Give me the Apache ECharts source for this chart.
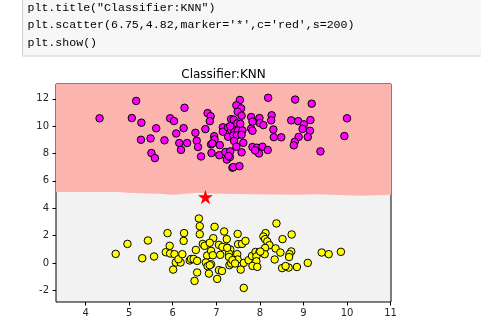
<!DOCTYPE html>
<html>
<head>
<meta charset="utf-8">
<script src="https://cdn.jsdelivr.net/npm/echarts@6/dist/echarts.min.js"></script>
<style>
  html, body { margin: 0; padding: 0; background: #ffffff; }
  #chart { width: 481px; height: 328px; }
</style>
</head>
<body>
<div id="chart"></div>
<script>
// Class 0 samples (upper blob)
const class0 = [
  [4.32, 10.58], [5.16, 11.85], [5.06, 10.60], [5.28, 10.26], [5.27, 9.01],
  [5.62, 9.85], [5.49, 9.11], [5.51, 8.04], [5.59, 7.67], [5.81, 8.97],
  [5.94, 10.58], [6.03, 10.38], [6.08, 9.47], [6.27, 11.35], [6.25, 9.86],
  [6.15, 8.77], [6.19, 8.27], [6.33, 8.77], [6.52, 9.52], [6.55, 8.94],
  [6.58, 8.48], [6.65, 7.79], [6.75, 9.79], [6.80, 10.96], [6.87, 10.73],
  [6.85, 10.37], [6.95, 9.27], [6.96, 9.04], [6.88, 8.67], [6.91, 8.74],
  [7.08, 8.62], [6.89, 8.04], [7.07, 7.88], [7.15, 9.92], [7.15, 9.60],
  [7.27, 9.92], [7.27, 9.23], [7.21, 8.11], [7.24, 7.56], [7.31, 7.74],
  [7.34, 10.52], [7.34, 9.71], [7.37, 6.97], [7.54, 11.92], [8.19, 12.08],
  [8.81, 11.95], [7.46, 11.53], [7.57, 11.31], [7.49, 11.06], [7.58, 10.77],
  [7.40, 10.48], [7.48, 10.21], [7.80, 10.67], [7.99, 10.60], [7.83, 10.33],
  [8.00, 10.23], [8.08, 10.08], [8.27, 10.80], [8.26, 10.43], [8.31, 9.76],
  [7.80, 9.82], [7.83, 9.67], [8.32, 9.20], [8.49, 9.19], [8.72, 10.43],
  [8.88, 10.37], [9.16, 10.45], [9.01, 10.14], [8.98, 9.80], [9.15, 9.67],
  [8.89, 9.22], [9.10, 9.21], [8.80, 8.86], [8.78, 8.60], [9.19, 11.65],
  [10.00, 10.58], [9.94, 9.28], [9.39, 8.16], [7.42, 9.65], [7.50, 9.70],
  [7.60, 9.70], [7.39, 9.33], [7.47, 9.33], [7.58, 9.38], [7.41, 8.92],
  [7.62, 8.79], [7.46, 8.50], [7.58, 8.09], [7.83, 8.48], [7.93, 8.43],
  [8.06, 8.50], [7.95, 8.13], [7.98, 8.01], [8.18, 8.26], [7.32, 8.16],
  [7.28, 7.82], [7.39, 7.01], [7.53, 7.08], [7.55, 10.18], [7.89, 8.23],
  [7.32, 10.00]
];

// Class 1 samples (lower blob)
const class1 = [
  [4.69, 0.66], [4.96, 1.39], [5.43, 1.64], [5.30, 0.34], [5.57, 0.47],
  [5.88, 2.18], [5.93, 1.25], [5.84, 0.78], [5.94, 0.69], [6.04, 0.64],
  [6.01, -0.49], [6.07, 0.03], [6.18, 0.03], [6.13, 0.27], [6.22, 0.64],
  [6.26, 2.18], [6.25, 1.61], [6.39, 0.18], [6.42, 0.29], [6.48, 0.29],
  [6.56, 0.15], [6.53, 0.95], [6.50, -1.32], [6.56, -0.70], [6.60, 3.25],
  [6.62, 2.69], [6.62, 2.10], [6.69, 1.39], [6.73, 1.25], [6.79, 0.54],
  [6.88, 0.88], [6.92, 0.56], [6.88, -0.10], [6.83, -0.78], [6.76, 0.03],
  [6.80, -0.24], [6.96, 2.64], [6.93, 1.81], [6.85, 1.47], [7.06, 1.32],
  [7.09, 0.59], [7.06, -0.53], [7.13, -0.59], [7.02, -1.17], [7.18, 2.30],
  [7.24, 1.74], [7.24, 1.13], [7.32, 0.98], [7.29, 0.69], [7.29, 0.44],
  [7.30, -0.17], [7.34, -0.04], [7.49, 2.12], [7.50, 1.37], [7.59, 1.39],
  [7.67, 1.61], [7.48, 0.64], [7.49, 0.25], [7.37, 0.20], [7.43, -0.04],
  [7.56, -0.49], [7.63, 0.00], [7.63, -1.83], [7.74, 0.20], [7.82, 0.51],
  [7.90, 0.80], [7.99, 0.78], [7.92, 0.47], [7.92, 0.12], [7.83, -0.22],
  [7.94, -0.29], [8.13, 2.18], [8.08, 1.93], [8.12, 1.74], [8.17, 1.57],
  [8.22, 1.30], [8.12, 1.10], [8.11, 0.64], [8.36, 1.06], [8.47, 0.76],
  [8.34, 0.25], [8.38, 2.89], [8.73, 2.08], [8.52, 1.74], [8.72, 0.84],
  [8.68, 0.64], [8.67, 0.43], [8.85, -0.30], [8.51, -0.38], [8.66, -0.34],
  [8.59, -0.23], [9.10, 0.00], [9.42, 0.76], [9.58, 0.64], [9.86, 0.81],
  [8.01, 0.83], [7.14, 1.17], [7.25, 1.10], [6.85, -0.17]
];

// Query point that gets classified
const queryPoint = [[6.75, 4.82]];

// Decision boundary between the two regions (step edges of the mesh)
const boundaryX = [3.32, 4.73, 4.97, 5.78, 5.97, 6.16, 6.58, 6.92, 7.84, 8.87, 9.26, 9.68, 10.33, 11.01];
const boundaryY = [5.18, 5.13, 5.05, 4.98, 5.03, 5.13, 5.08, 5.03, 4.98, 5.03, 4.98, 4.91, 4.98, 4.98];

// Axis limits and ticks
const xLimits = [3.32, 11.01];
const yLimits = [-2.86, 13.09];
const xTicks = [4, 5, 6, 7, 8, 9, 10, 11];
const yTicks = [-2, 0, 2, 4, 6, 8, 10, 12];

// Notebook cell lines
const codeLines = [
  '{k|plt.title(}{s|"Classifier:KNN"}{k|)}',
  '{k|plt.scatter(}{n|6.75}{k|,}{n|4.82}{k|,marker}{o|=}{s|\'*\'}{k|,c}{o|=}{s|\'red\'}{k|,s}{o|=}{n|200}{k|)}',
  '{k|plt.show()}'
];

const boundary = boundaryX.map((x, i) => [x, boundaryY[i]]);

const starPath = 'path://M0,-1 L0.2245,-0.309 L0.951,-0.309 L0.3633,0.118 L0.5878,0.809 L0,0.382 L-0.5878,0.809 L-0.3633,0.118 L-0.951,-0.309 L-0.2245,-0.309 Z';

const codeFont = { fontFamily: 'Liberation Mono', fontSize: 11.6 };
const richCode = {
  k: Object.assign({ color: '#000000' }, codeFont),
  s: Object.assign({ color: '#ba2121' }, codeFont),
  n: Object.assign({ color: '#008000' }, codeFont),
  o: Object.assign({ color: '#aa22ff' }, codeFont)
};

const chart = echarts.init(document.getElementById('chart'), null, { renderer: 'canvas' });

const tickLabelStyle = {
  color: '#262626',
  fontFamily: 'DejaVu Sans',
  fontSize: 10
};

chart.setOption({
  animation: false,
  backgroundColor: '#ffffff',
  grid: {
    left: 56, top: 84, width: 335, height: 218,
    show: true,
    backgroundColor: '#f2f2f2',
    borderColor: '#000000',
    borderWidth: 1
  },
  graphic: [
    {
      type: 'rect',
      shape: { x: 22.5, y: -5, width: 470, height: 61 },
      style: { fill: '#f7f7f7', stroke: '#cfcfcf', lineWidth: 1 },
      silent: true
    },
    ...codeLines.map((line, i) => ({
      type: 'text',
      x: 27.5,
      y: 7.5 + i * 17.5,
      style: { text: line, rich: richCode, verticalAlign: 'middle', align: 'left' },
      silent: true
    })),
    {
      type: 'text',
      x: 223.5,
      y: 74.5,
      style: {
        text: 'Classifier:KNN',
        fontFamily: 'DejaVu Sans',
        fontSize: 12,
        fill: '#000000',
        align: 'center',
        verticalAlign: 'middle'
      },
      silent: true
    }
  ],
  xAxis: {
    type: 'value',
    min: xLimits[0],
    max: xLimits[1],
    axisLine: { show: false, onZero: false },
    splitLine: { show: false },
    axisTick: {
      show: true, inside: false, length: 3.5,
      customValues: xTicks,
      lineStyle: { color: '#000000', width: 1 }
    },
    axisLabel: Object.assign({ customValues: xTicks, margin: 6, showMinLabel: true, showMaxLabel: true }, tickLabelStyle)
  },
  yAxis: {
    type: 'value',
    min: yLimits[0],
    max: yLimits[1],
    axisLine: { show: false, onZero: false },
    splitLine: { show: false },
    axisTick: {
      show: true, inside: false, length: 3.5,
      customValues: yTicks,
      lineStyle: { color: '#000000', width: 1 }
    },
    axisLabel: Object.assign({ customValues: yTicks, margin: 7 }, tickLabelStyle)
  },
  series: [
    {
      type: 'line',
      data: boundary,
      step: 'end',
      showSymbol: false,
      lineStyle: { width: 0, color: '#fbb4ae' },
      areaStyle: { origin: 'end', color: '#fbb4ae', opacity: 1 },
      silent: true,
      z: 1
    },
    {
      type: 'scatter',
      data: class0,
      symbol: 'circle',
      symbolSize: 7.5,
      itemStyle: { color: '#ff00ff', borderColor: '#000000', borderWidth: 1, opacity: 1 },
      z: 3
    },
    {
      type: 'scatter',
      data: class1,
      symbol: 'circle',
      symbolSize: 7.5,
      itemStyle: { color: '#ffff00', borderColor: '#000000', borderWidth: 1, opacity: 1 },
      z: 3
    },
    {
      type: 'scatter',
      data: queryPoint,
      symbol: starPath,
      symbolSize: [15, 14.3],
      itemStyle: { color: '#ff0000', opacity: 1 },
      z: 4
    }
  ]
});
</script>
</body>
</html>
